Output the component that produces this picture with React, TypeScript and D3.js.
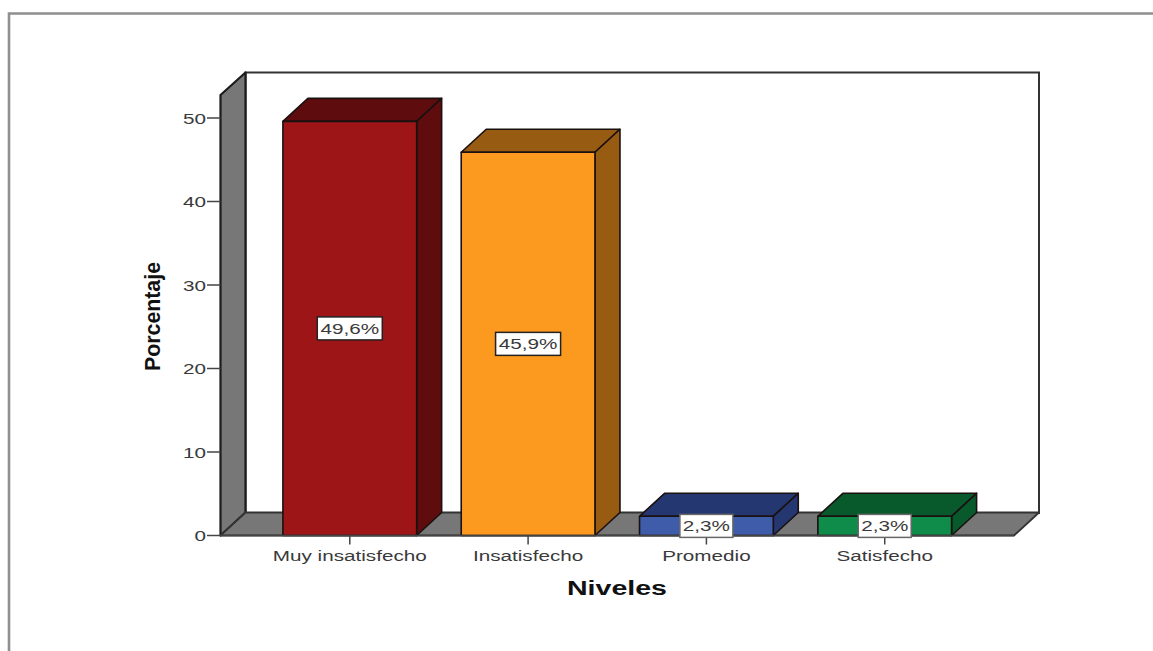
import React from "react";
import * as d3 from "d3";

// Survey satisfaction levels and their share of respondents (%)
const levels = ["Muy insatisfecho", "Insatisfecho", "Promedio", "Satisfecho"];
const percentages = [49.6, 45.9, 2.3, 2.3];
const valueLabels = ["49,6%", "45,9%", "2,3%", "2,3%"];
const yTicks = [0, 10, 20, 30, 40, 50];
const frontColors = ["#9E1518", "#FB9A1E", "#3F5CAB", "#0F8C4A"];
const shadeColors = ["#5F0C0E", "#975C12", "#243770", "#085A2C"];

const FONT = "'Liberation Sans', Arial, sans-serif";
const DEPTH_X = 25;
const DEPTH_Y = 23;
const WALL = "#777777";
const EDGE = "#1c1c1c";
const TEXT = "#3a3a3a";
// Small labels are set in a horizontally extended cut
const WIDEN = 1.38;

const pts = (p: [number, number][]) => p.map((q) => q.join(",")).join(" ");

export default function App() {
  const y = d3.scaleLinear().domain([0, 50]).range([535.5, 118]);
  const x = d3
    .scaleBand<string>()
    .domain(levels)
    .range([220.5, 1014])
    .paddingInner(0.25)
    .paddingOuter(0.35);

  const x0 = 220.5;
  const x1 = 1014;
  const y0 = y(0);
  const yTop = 95;

  return (
    <svg
      width={1153}
      height={651}
      style={{ position: "absolute", left: 0, top: 0, background: "#fff" }}
      fontFamily={FONT}
    >
      {/* page frame, open to the right and bottom */}
      <path d="M9 651V13.5H1153" fill="none" stroke="#8f8f8f" strokeWidth={2.6} />

      {/* back wall */}
      <rect
        x={x0 + DEPTH_X}
        y={yTop - DEPTH_Y + 0.5}
        width={x1 - x0}
        height={y0 - yTop}
        fill="#fff"
        stroke="#333"
        strokeWidth={2}
      />
      {/* left wall */}
      <polygon
        points={pts([
          [x0, yTop],
          [x0 + DEPTH_X, yTop - DEPTH_Y + 0.5],
          [x0 + DEPTH_X, y0 - DEPTH_Y],
          [x0, y0],
        ])}
        fill={WALL}
        stroke={EDGE}
        strokeWidth={2.2}
        strokeLinejoin="round"
      />
      {/* floor */}
      <polygon
        points={pts([
          [x0, y0],
          [x0 + DEPTH_X, y0 - DEPTH_Y],
          [x1 + DEPTH_X, y0 - DEPTH_Y],
          [x1, y0],
        ])}
        fill={WALL}
        stroke="#333"
        strokeWidth={1.8}
        strokeLinejoin="round"
      />

      {/* y axis */}
      {yTicks.map((t) => (
        <g key={t} transform={`translate(0,${y(t)})`}>
          <line x1={207} x2={x0} stroke="#444" strokeWidth={1.5} />
          <text
            transform={`translate(206,5.5) scale(${WIDEN},1)`}
            textAnchor="end"
            fontSize={15}
            fill={TEXT}
          >
            {t}
          </text>
        </g>
      ))}
      <text
        transform="translate(160,316.5) rotate(-90) scale(1,1.15)"
        textAnchor="middle"
        fontSize={19}
        fontWeight="bold"
        fill="#111"
        textLength={109}
        lengthAdjust="spacingAndGlyphs"
      >
        Porcentaje
      </text>

      {/* bars with depth */}
      {levels.map((level, i) => {
        const left = x(level)!;
        const right = left + x.bandwidth();
        const top = y(percentages[i]);
        return (
          <g key={level} stroke="#1a1010" strokeWidth={1.6} strokeLinejoin="round">
            <polygon
              points={pts([
                [left, top],
                [left + DEPTH_X, top - DEPTH_Y],
                [right + DEPTH_X, top - DEPTH_Y],
                [right, top],
              ])}
              fill={shadeColors[i]}
            />
            <polygon
              points={pts([
                [right, top],
                [right + DEPTH_X, top - DEPTH_Y],
                [right + DEPTH_X, y0 - DEPTH_Y],
                [right, y0],
              ])}
              fill={shadeColors[i]}
            />
            <rect x={left} y={top} width={x.bandwidth()} height={y0 - top} fill={frontColors[i]} />
          </g>
        );
      })}

      {/* baseline */}
      <line x1={x0} x2={x1} y1={y0} y2={y0} stroke="#444" strokeWidth={1.5} />

      {/* category ticks and labels */}
      {levels.map((level) => {
        const cx = x(level)! + x.bandwidth() / 2;
        return (
          <g key={level}>
            <line x1={cx} x2={cx} y1={y0} y2={y0 + 9} stroke="#444" strokeWidth={1.5} />
            <text
              transform={`translate(${cx},561) scale(${WIDEN},1)`}
              textAnchor="middle"
              fontSize={15}
              fill={TEXT}
            >
              {level}
            </text>
          </g>
        );
      })}
      <text
        x={617}
        y={595}
        textAnchor="middle"
        fontSize={20}
        fontWeight="bold"
        fill="#111"
        textLength={100}
        lengthAdjust="spacingAndGlyphs"
      >
        Niveles
      </text>

      {/* value labels centred in each bar */}
      {levels.map((level, i) => {
        const cx = x(level)! + x.bandwidth() / 2;
        const cy = y(percentages[i] / 2);
        const w = valueLabels[i].length === 5 ? 65 : 53;
        return (
          <g key={level}>
            <rect
              x={cx - w / 2}
              y={cy - 11.5}
              width={w}
              height={23}
              fill="#fff"
              stroke={i < 2 ? "#222" : "#666"}
              strokeWidth={1.5}
            />
            <text
              transform={`translate(${cx},${cy + 5.5}) scale(${WIDEN},1)`}
              textAnchor="middle"
              fontSize={15}
              fill={TEXT}
            >
              {valueLabels[i]}
            </text>
          </g>
        );
      })}
    </svg>
  );
}
